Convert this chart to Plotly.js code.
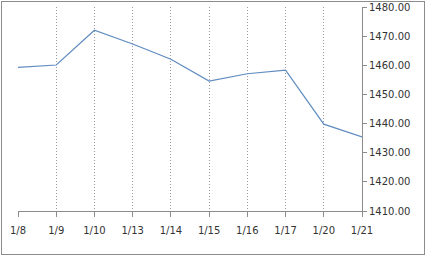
<!DOCTYPE html>
<html>
<head>
<meta charset="utf-8">
<script src="https://cdn.plot.ly/plotly-3.0.1.min.js"></script>
<style>
html, body { margin: 0; padding: 0; background: #fff; }
#chart { position: absolute; left: 0; top: 0; width: 426px; height: 256px; }
#frame { position: absolute; left: 1px; top: 1px; width: 422px; height: 252px; border: 1px solid #8c8c8c; pointer-events: none; }
</style>
</head>
<body>
<div id="chart"></div>
<div id="frame"></div>
<script>
const dates = ["1/8", "1/9", "1/10", "1/13", "1/14", "1/15", "1/16", "1/17", "1/20", "1/21"];
const values = [1459.3, 1460.1, 1472.0, 1467.3, 1462.1, 1454.6, 1457.1, 1458.3, 1439.8, 1435.4];
const yTicks = [1410, 1420, 1430, 1440, 1450, 1460, 1470, 1480];

const trace = {
  x: dates,
  y: values,
  type: "scatter",
  mode: "lines",
  line: { color: "#5f8cc0", width: 1.2 },
  hoverinfo: "skip"
};

const layout = {
  width: 426,
  height: 256,
  margin: { l: 18, r: 64, t: 7, b: 45, pad: 0 },
  paper_bgcolor: "#ffffff",
  plot_bgcolor: "#ffffff",
  showlegend: false,
  font: { family: "DejaVu Sans, Verdana, sans-serif", size: 10, color: "#333333" },
  xaxis: {
    type: "category",
    range: [0, dates.length - 1],
    showline: true,
    linecolor: "#8c8c8c",
    linewidth: 1,
    ticks: "outside",
    ticklen: 5,
    tickcolor: "#8c8c8c",
    ticklabelstandoff: 5,
    showgrid: true,
    gridcolor: "#9a9a9a",
    griddash: "1px,2px",
    gridwidth: 1,
    zeroline: false,
    fixedrange: true
  },
  yaxis: {
    side: "right",
    range: [1410, 1480],
    tickvals: yTicks,
    tickformat: ".2f",
    showline: true,
    linecolor: "#8c8c8c",
    linewidth: 1,
    ticks: "outside",
    ticklen: 4,
    tickcolor: "#8c8c8c",
    showgrid: false,
    zeroline: false,
    fixedrange: true
  }
};

Plotly.newPlot("chart", [trace], layout, { staticPlot: true, displayModeBar: false });
</script>
</body>
</html>
